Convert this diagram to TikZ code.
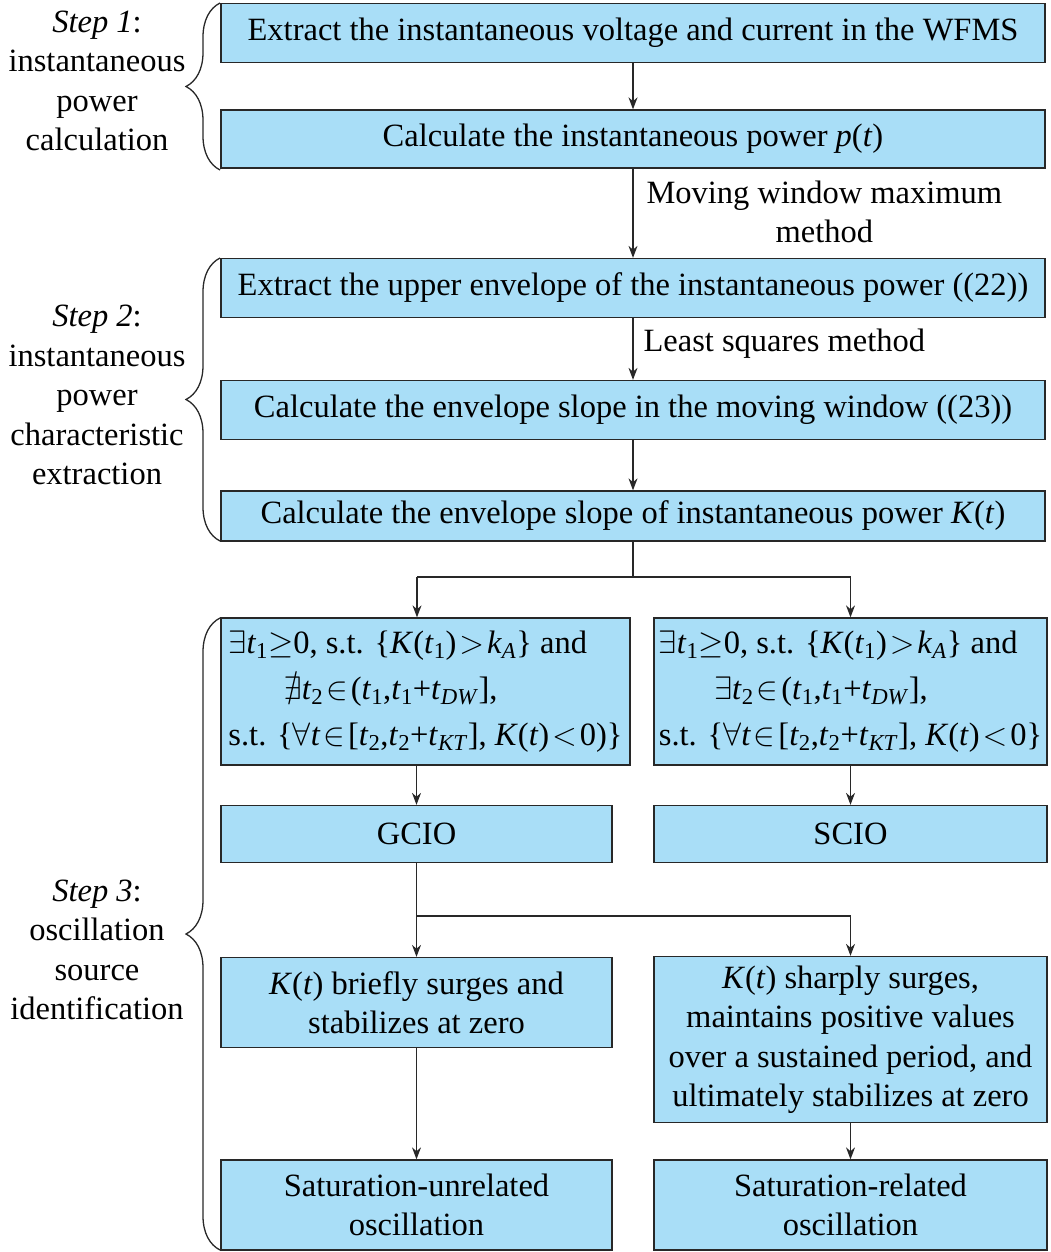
\RequirePackage{fix-cm}
\documentclass[tikz,border=0pt]{standalone}
\usepackage{amssymb}
\usepackage{fontspec}
\IfFontExistsTF{LiberationSerif-Regular.ttf}{%
  \setmainfont{LiberationSerif}[Extension=.ttf, UprightFont=*-Regular, ItalicFont=*-Italic, BoldFont=*-Bold, BoldItalicFont=*-BoldItalic]}{%
  \setmainfont{Liberation Serif}[UprightFont={* Regular}, ItalicFont={* Italic}, BoldFont={* Bold}, BoldItalicFont={* Bold Italic}]}
\usetikzlibrary{arrows.meta,decorations.pathreplacing}
\definecolor{boxblue}{RGB}{169,222,247}
\definecolor{linegray}{RGB}{40,40,40}
\newcommand{\tv}[1]{\textit{#1}}
\newcommand{\tsub}[1]{\textsubscript{#1}}
\newcommand{\rs}{\hspace{0.09em}}

\begin{document}
\begin{tikzpicture}[x=1pt, y=-1pt,
    font=\fontsize{32.5}{39.5}\selectfont,
    >={Stealth[length=12pt,width=9pt]},
    flow/.style={->, draw=linegray, line width=1.3pt},
    link/.style={draw=linegray, line width=1.3pt},
    procbox/.style={draw=linegray, fill=boxblue, line width=1.3pt, inner sep=0pt, align=center},
    cond/.style={procbox, align=left, font=\fontsize{32.5}{46}\selectfont},
    brace/.style={draw=linegray, line width=1.3pt, decorate, decoration={brace, amplitude=34pt, aspect=0.5}}]
    \useasboundingbox (0,0) rectangle (1050,1252);

    % Step 1 and 2 boxes
    \node[procbox, minimum width=824pt, minimum height=59pt] (extract) at (633,33) {Extract the instantaneous voltage and current in the WFMS};
    \node[procbox, minimum width=824pt, minimum height=58pt] (power) at (633,139) {Calculate the instantaneous power \tv{p}(\tv{t})};
    \node[procbox, minimum width=824pt, minimum height=59pt] (envelope) at (633,288) {Extract the upper envelope of the instantaneous power ((22))};
    \node[procbox, minimum width=824pt, minimum height=59pt] (slopewin) at (633,410) {Calculate the envelope slope in the moving window ((23))};
    \node[procbox, minimum width=824pt, minimum height=50pt] (slopek) at (633,516) {Calculate the envelope slope of instantaneous power \tv{K}(\tv{t})};

    % Conditions
    \node[cond, minimum width=409pt, minimum height=147pt] (condG) at (425.5,691.5) {%
      $\exists$\tv{t}\tsub{1}$\geq$0, s.t. \{\tv{K}(\tv{t}\tsub{1})\rs$>$\rs\tv{k}\tsub{\tv{A}}\} and\\
      \hspace*{1.7em}$\nexists$\tv{t}\tsub{2}\rs$\in$\rs(\tv{t}\tsub{1},\tv{t}\tsub{1}+\tv{t}\tsub{\tv{DW}}],\\
      s.t. \{$\forall$\tv{t}\rs$\in$\rs[\tv{t}\tsub{2},\tv{t}\tsub{2}+\tv{t}\tsub{\tv{KT}}], \tv{K}(\tv{t})\rs$<$\rs0)\}};
    \node[cond, minimum width=393pt, minimum height=147pt] (condS) at (850.5,691.5) {%
      $\exists$\tv{t}\tsub{1}$\geq$0, s.t. \{\tv{K}(\tv{t}\tsub{1})\rs$>$\rs\tv{k}\tsub{\tv{A}}\} and\\
      \hspace*{1.7em}$\exists$\tv{t}\tsub{2}\rs$\in$\rs(\tv{t}\tsub{1},\tv{t}\tsub{1}+\tv{t}\tsub{\tv{DW}}],\\
      s.t. \{$\forall$\tv{t}\rs$\in$\rs[\tv{t}\tsub{2},\tv{t}\tsub{2}+\tv{t}\tsub{\tv{KT}}], \tv{K}(\tv{t})\rs$<$\rs0\}};

    % Oscillation types
    \node[procbox, minimum width=391pt, minimum height=57pt] (gcio) at (416.5,834) {GCIO};
    \node[procbox, minimum width=393pt, minimum height=57pt] (scio) at (850.5,834) {SCIO};
    \node[procbox, minimum width=391pt, minimum height=90pt] (briefly) at (416.5,1002.5) {\tv{K}(\tv{t}) briefly surges and\\stabilizes at zero};
    \node[procbox, minimum width=393pt, minimum height=166pt] (sharply) at (850.5,1039.5) {\tv{K}(\tv{t}) sharply surges,\\maintains positive values\\over a sustained period, and\\ultimately stabilizes at zero};
    \node[procbox, minimum width=391pt, minimum height=90pt] (unrel) at (416.5,1205) {Saturation-unrelated\\oscillation};
    \node[procbox, minimum width=393pt, minimum height=90pt] (rel) at (850.5,1205) {Saturation-related\\oscillation};

    % Arrows
    \draw[flow] (extract) -- (power);
    \draw[flow] (power) -- (envelope);
    \node[anchor=west, align=center] (mwm) at (643,212) {Moving window maximum\\method};
    \draw[flow] (envelope) -- (slopewin);
    \node[anchor=west] (lsq) at (640,344) {Least squares method};
    \draw[flow] (slopewin) -- (slopek);

    % First split
    \coordinate (fork1) at (633,577);
    \coordinate (fork1l) at (417,577);
    \coordinate (fork1r) at (850.5,577);
    \draw[link] (slopek.south) -- (fork1);
    \draw[link] (fork1l) -- (fork1r);
    \draw[flow] (fork1l) -- (fork1l |- condG.north);
    \draw[flow] (fork1r) -- (condS.north);
    \draw[flow] (gcio.north |- condG.south) -- (gcio.north);
    \draw[flow] (condS) -- (scio);

    % Second split
    \coordinate (fork2) at (416.5,916);
    \coordinate (fork2r) at (850.5,916);
    \draw[link] (gcio.south) -- (fork2) -- (fork2r);
    \draw[flow] (fork2) -- (briefly.north);
    \draw[flow] (fork2r) -- (sharply.north);
    \draw[flow] (briefly) -- (unrel);
    \draw[flow] (sharply) -- (rel);

    % Braces and step labels
    \draw[brace] (220,170) -- (220,3);
    \draw[brace] (220,541) -- (220,258);
    \draw[brace] (220,1250) -- (220,618);
    \node[align=center] (step1) at (97,81) {\tv{Step 1}:\\instantaneous\\power\\calculation};
    \node[align=center] (step2) at (97,395) {\tv{Step 2}:\\instantaneous\\power\\characteristic\\extraction};
    \node[align=center] (step3) at (97,950) {\tv{Step 3}:\\oscillation\\source\\identification};
  \end{tikzpicture}
\end{document}
